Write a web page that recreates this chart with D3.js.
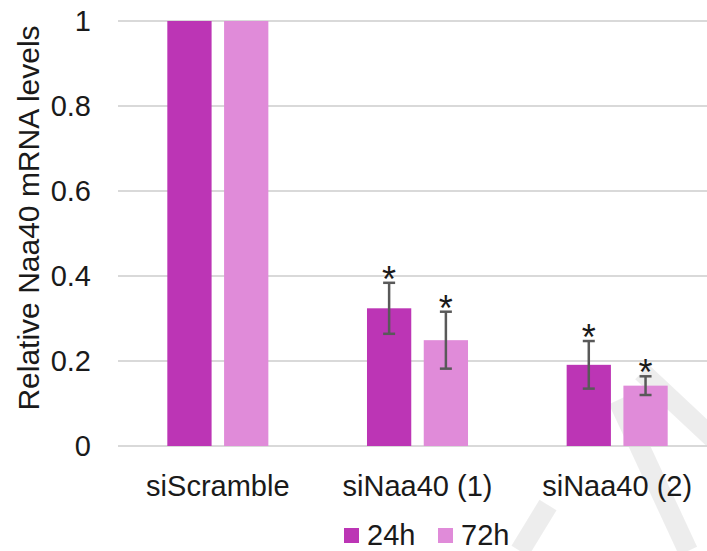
<!DOCTYPE html>
<html>
<head>
<meta charset="utf-8">
<script src="https://cdn.jsdelivr.net/npm/d3@7"></script>
<style>
  body { margin: 0; background: #fff; }
  text { font-family: "Liberation Sans", Arial, sans-serif; fill: #1a1a1a; }
</style>
</head>
<body>
<svg width="707" height="551"></svg>
<script>
// data
const categories = ["siScramble", "siNaa40 (1)", "siNaa40 (2)"];
const seriesNames = ["24h", "72h"];
const values24 = [1, 0.324, 0.191];
const values72 = [1, 0.249, 0.142];
const err24 = [0, 0.060, 0.056];
const err72 = [0, 0.067, 0.022];
const stars24 = [false, true, true];
const stars72 = [false, true, true];
const yTicks = [0, 0.2, 0.4, 0.6, 0.8, 1];
const colors = ["#bc35b5", "#e08bd9"];

const svg = d3.select("svg");

// faint watermark strokes, bottom right
const wm = svg.append("g").attr("fill", "none")
    .attr("stroke", "#000").attr("stroke-opacity", 0.07).attr("stroke-width", 20);
wm.append("path").attr("d", "M618,400 L688,551");
wm.append("path").attr("d", "M642,372 L720,445");
wm.append("path").attr("d", "M520,551 L548,505");

const x0 = d3.scaleBand().domain(categories).range([118, 717])
    .paddingInner(0.494).paddingOuter(0.247);
const x1 = d3.scaleBand().domain(seriesNames).range([0, x0.bandwidth()])
    .paddingInner(0.22);
const y = d3.scaleLinear().domain([0, 1]).range([446, 21]);

// gridlines
svg.append("g").selectAll("line").data(yTicks).enter().append("line")
    .attr("x1", 118).attr("x2", 717)
    .attr("y1", d => y(d)).attr("y2", d => y(d))
    .attr("stroke", "#d9d9d9").attr("stroke-width", 2);

// y tick labels
svg.append("g").selectAll("text").data(yTicks).enter().append("text")
    .attr("x", 91).attr("y", d => y(d)).attr("dy", "0.36em")
    .attr("text-anchor", "end").attr("font-size", 29)
    .text(d => d3.format("")(d));

// bars
const rows = categories.map((c, i) => [
  { cat: c, s: "24h", v: values24[i], e: err24[i], star: stars24[i], col: colors[0] },
  { cat: c, s: "72h", v: values72[i], e: err72[i], star: stars72[i], col: colors[1] }
]).flat();

const bars = svg.append("g").selectAll("g").data(rows).enter().append("g")
    .attr("transform", d => `translate(${x0(d.cat) + x1(d.s)},0)`);

bars.append("rect")
    .attr("x", 0).attr("width", x1.bandwidth())
    .attr("y", d => y(d.v)).attr("height", d => y(0) - y(d.v))
    .attr("fill", d => d.col);

const w = x1.bandwidth() / 2;
const eb = bars.filter(d => d.e > 0).append("g").attr("stroke", "#595959").attr("stroke-width", 2.5);
eb.append("line").attr("x1", w).attr("x2", w)
    .attr("y1", d => y(d.v + d.e)).attr("y2", d => y(d.v - d.e));
eb.append("line").attr("x1", w - 6).attr("x2", w + 6)
    .attr("y1", d => y(d.v + d.e)).attr("y2", d => y(d.v + d.e));
eb.append("line").attr("x1", w - 6).attr("x2", w + 6)
    .attr("y1", d => y(d.v - d.e)).attr("y2", d => y(d.v - d.e));

bars.filter(d => d.star).append("text")
    .attr("x", w).attr("y", d => y(d.v + d.e) + 9)
    .attr("text-anchor", "middle").attr("font-size", 36)
    .text("*");

// category labels
svg.append("g").selectAll("text").data(categories).enter().append("text")
    .attr("x", d => x0(d) + x0.bandwidth() / 2).attr("y", 496)
    .attr("text-anchor", "middle").attr("font-size", 29)
    .text(d => d);

// y axis title
svg.append("text")
    .attr("transform", "translate(39,218) rotate(-90)")
    .attr("text-anchor", "middle").attr("font-size", 30)
    .text("Relative Naa40 mRNA levels");

// legend
const leg = svg.append("g").selectAll("g").data(seriesNames).enter().append("g")
    .attr("transform", (d, i) => `translate(${344 + i * 94},0)`);
leg.append("rect").attr("x", 0).attr("y", 528).attr("width", 15).attr("height", 15)
    .attr("fill", (d, i) => colors[i]);
leg.append("text").attr("x", 23).attr("y", 545).attr("font-size", 29).text(d => d);
</script>
</body>
</html>
